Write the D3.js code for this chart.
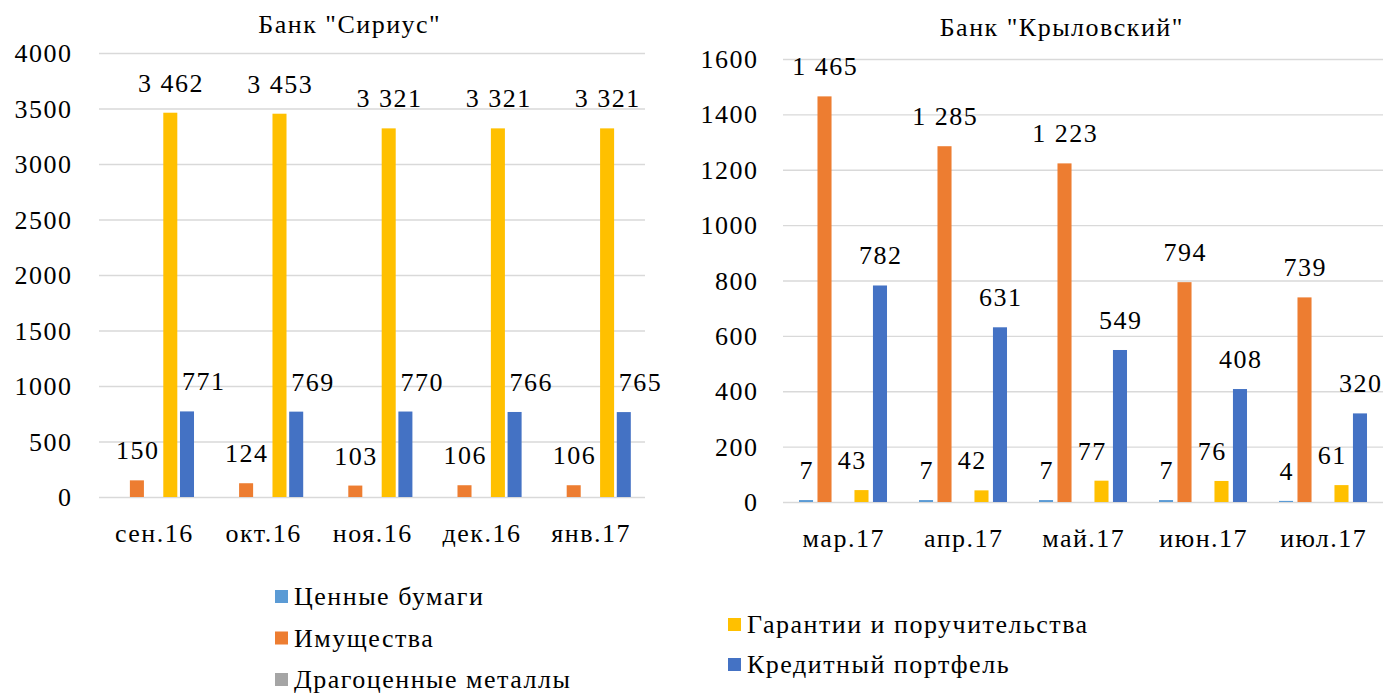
<!DOCTYPE html>
<html><head><meta charset="utf-8">
<script src="https://cdn.jsdelivr.net/npm/d3@7"></script>
</head><body style="margin:0">
<script>
// серии (общие для обоих графиков)
var series = ["Ценные бумаги", "Имущества", "Драгоценные металлы", "Гарантии и поручительства", "Кредитный портфель"];
var colors = ["#5B9BD5", "#ED7D31", "#A5A5A5", "#FFC000", "#4472C4"];

// Банк "Сириус"
var monthsSirius = ["сен.16", "окт.16", "ноя.16", "дек.16", "янв.17"];
var siriusBumagi = [null, null, null, null, null];
var siriusImush = [150, 124, 103, 106, 106];
var siriusMetally = [null, null, null, null, null];
var siriusGarant = [3462, 3453, 3321, 3321, 3321];
var siriusKredit = [771, 769, 770, 766, 765];
var ticksSirius = [0, 500, 1000, 1500, 2000, 2500, 3000, 3500, 4000];

// Банк "Крыловский"
var monthsKryl = ["мар.17", "апр.17", "май.17", "июн.17", "июл.17"];
var krylBumagi = [7, 7, 7, 7, 4];
var krylImush = [1465, 1285, 1223, 794, 739];
var krylMetally = [null, null, null, null, null];
var krylGarant = [43, 42, 77, 76, 61];
var krylKredit = [782, 631, 549, 408, 320];
var ticksKryl = [0, 200, 400, 600, 800, 1000, 1200, 1400, 1600];

var FS = 26;
var LS = 1.5;   // буквы в оригинале чуть растянуты

var ru = d3.formatLocale({decimal: ",", thousands: " ", grouping: [3], currency: ["", ""]});
var fmt = ru.format(",d");

var svg = d3.select("body").append("svg")
    .attr("width", 1385)
    .attr("height", 696);

// все подписи кладём прямо в svg, поверх столбцов
function txt(s, x, y, anchor) {
    return svg.append("text")
        .attr("x", x + (anchor ? 0 : LS / 2))
        .attr("y", y)
        .attr("text-anchor", anchor || "middle")
        .attr("font-family", "Tinos")
        .style("font-family", "'Tinos'")
        .style("font-size", FS + "px")
        .style("letter-spacing", LS + "px")
        .text(s);
}

function drawChart(opt) {
    var g = svg.append("g");
    var x0 = d3.scaleBand().domain(opt.months).range([opt.left, opt.right]);
    var x1 = d3.scaleBand().domain(series).range([0, x0.bandwidth()])
        .paddingInner(opt.pi).paddingOuter(opt.po);
    var y = d3.scaleLinear().domain([0, opt.max]).range([opt.bottom, opt.top]);

    // сетка по оси Y
    var ya = g.append("g")
        .attr("transform", "translate(" + opt.left + ",0)")
        .call(d3.axisLeft(y).tickValues(opt.ticks).tickSize(-(opt.right - opt.left)).tickFormat(""));
    ya.select(".domain").remove();
    ya.selectAll("text").remove();
    ya.selectAll("line").attr("stroke", "#D9D9D9").attr("stroke-width", 1.3);
    opt.ticks.forEach(function (t) {
        txt(d3.format("d")(t), opt.left - opt.labelGap + LS, y(t) + 9, "end");
    });

    // подписи оси X
    var xa = g.append("g")
        .attr("transform", "translate(0," + opt.bottom + ")")
        .call(d3.axisBottom(x0).tickSize(0).tickFormat(""));
    xa.select(".domain").remove();
    xa.selectAll("text").remove();
    opt.months.forEach(function (m) {
        txt(m, x0(m) + x0.bandwidth() / 2, opt.bottom + 45);
    });

    // столбцы
    opt.data.forEach(function (vals, si) {
        var name = series[si];
        var pts = vals.map(function (v, i) { return {m: opt.months[i], v: v}; })
            .filter(function (d) { return d.v !== null; });
        g.selectAll(".bar" + si)
            .data(pts)
            .enter().append("rect")
            .attr("x", function (d) { return x0(d.m) + x1(name); })
            .attr("y", function (d) { return y(d.v); })
            .attr("width", x1.bandwidth())
            .attr("height", function (d) { return y(0) - y(d.v); })
            .attr("fill", colors[si]);
        pts.forEach(function (d) {
            var cx = x0(d.m) + x1(name) + x1.bandwidth() / 2 + (opt.dx[si] || 0);
            txt(fmt(d.v), cx, y(d.v) - 21);
        });
    });

    txt(opt.title, opt.titleX, opt.titleY);
}

drawChart({
    title: "Банк \"Сириус\"", titleX: 349, titleY: 33,
    months: monthsSirius,
    data: [siriusBumagi, siriusImush, siriusMetally, siriusGarant, siriusKredit],
    ticks: ticksSirius, max: 4000,
    left: 99, right: 645, top: 53, bottom: 497,
    pi: 0.16, po: 0.85, labelGap: 28,
    dx: [0, 0, 0, 0, 16]
});

drawChart({
    title: "Банк \"Крыловский\"", titleX: 1061, titleY: 36,
    months: monthsKryl,
    data: [krylBumagi, krylImush, krylMetally, krylGarant, krylKredit],
    ticks: ticksKryl, max: 1600,
    left: 783, right: 1383, top: 59, bottom: 502,
    pi: 0.24, po: 0.865, labelGap: 26,
    dx: [0, 0, 0, -10, 0]
});

// легенда
var legLeft = [0, 1, 2];
var legRight = [3, 4];
legLeft.forEach(function (si, i) {
    var by = 605 + i * 41.5;
    svg.append("rect").attr("x", 275).attr("y", by - 15).attr("width", 13).attr("height", 13).attr("fill", colors[si]);
    txt(series[si], 294, by, "start");
});
legRight.forEach(function (si, i) {
    var by = 633 + i * 40;
    svg.append("rect").attr("x", 728).attr("y", by - 15).attr("width", 13).attr("height", 13).attr("fill", colors[si]);
    txt(series[si], 747, by, "start");
});
</script></body></html>
